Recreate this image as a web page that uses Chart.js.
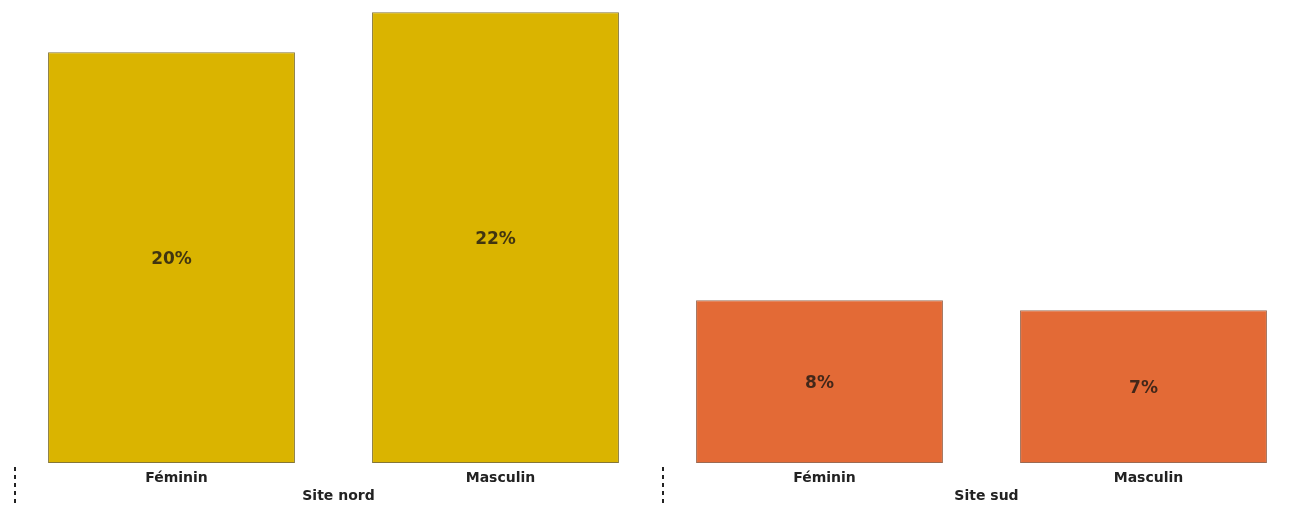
<!DOCTYPE html>
<html>
<head>
<meta charset="utf-8">
<script src="https://cdn.jsdelivr.net/npm/chart.js@4"></script>
<style>
  html, body { margin: 0; padding: 0; background: #fff; overflow: hidden; }
  #wrap { position: absolute; left: 0; top: 0; width: 1320px; height: 505px; }
</style>
</head>
<body>
<div id="wrap"><canvas id="chart" width="1320" height="505"></canvas></div>
<script>
// categories: gender inside each site
const genders = ['Féminin', 'Masculin', 'Féminin', 'Masculin'];
const sites = ['Site nord', 'Site sud'];
// share per bar, in %
const shares = [20.05, 22.0, 7.95, 7.46];
const barColors = ['#DAB400', '#DAB400', '#E36A36', '#E36A36'];
const barEdges = ['#857636', '#857636', '#9C6A52', '#9C6A52'];

// value written in the middle of each bar
const valueLabels = {
    id: 'valueLabels',
    afterDatasetsDraw(chart) {
        const ctx = chart.ctx;
        const meta = chart.getDatasetMeta(0);
        ctx.save();
        ctx.font = 'bold 17px "DejaVu Sans", Verdana, sans-serif';
        ctx.fillStyle = 'rgba(30, 25, 20, 0.82)';
        ctx.textAlign = 'center';
        ctx.textBaseline = 'middle';
        meta.data.forEach((bar, i) => {
            const mid = (bar.y + bar.base) / 2 + 2;
            ctx.fillText(Math.round(shares[i]) + '%', bar.x, mid);
        });
        ctx.restore();
    }
};

// dashed separators in front of each site group
const groupSeparators = {
    id: 'groupSeparators',
    afterDraw(chart) {
        const x = chart.scales.x;
        const step = (x.right - x.left) / genders.length;
        const ctx = chart.ctx;
        ctx.save();
        ctx.strokeStyle = '#222';
        ctx.lineWidth = 2;
        ctx.setLineDash([4, 4]);
        sites.forEach((s, g) => {
            const px = Math.round(x.left + g * 2 * step + 5);
            ctx.beginPath();
            ctx.moveTo(px, chart.chartArea.bottom + 4);
            ctx.lineTo(px, chart.height);
            ctx.stroke();
        });
        ctx.restore();
    }
};

const ctx = document.getElementById('chart').getContext('2d');
new Chart(ctx, {
    type: 'bar',
    data: {
        labels: genders,
        datasets: [{
            data: shares,
            backgroundColor: barColors,
            borderColor: barEdges,
            borderWidth: 1,
            borderSkipped: false,
            categoryPercentage: 1,
            barPercentage: 0.762
        }]
    },
    options: {
        responsive: false,
        animation: false,
        layout: { padding: { left: 9.5, right: 14.5, top: 0, bottom: 0 } },
        plugins: {
            legend: { display: false },
            tooltip: { enabled: false }
        },
        scales: {
            y: {
                display: false,
                min: 0,
                max: 22.6
            },
            x: {
                grid: { display: false, drawTicks: false },
                border: { display: false },
                ticks: {
                    color: '#222',
                    padding: 7,
                    labelOffset: 5,
                    font: { family: '"DejaVu Sans", Verdana, sans-serif', size: 14, weight: 'bold' }
                },
                afterFit: s => { s.height = 24; }
            },
            x2: {
                type: 'category',
                position: 'bottom',
                labels: sites,
                grid: { display: false, drawTicks: false },
                border: { display: false },
                ticks: {
                    color: '#222',
                    padding: 1,
                    labelOffset: 5,
                    font: { family: '"DejaVu Sans", Verdana, sans-serif', size: 14, weight: 'bold' }
                },
                afterFit: s => { s.height = 18; }
            }
        }
    },
    plugins: [valueLabels, groupSeparators]
});
</script>
</body>
</html>
